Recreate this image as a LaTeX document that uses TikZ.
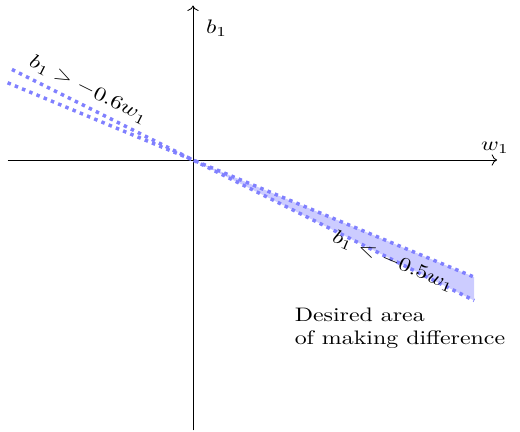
\documentclass[tikz,border=0pt]{standalone}
\usetikzlibrary{positioning,arrows.meta}
\begin{document}
\begin{tikzpicture}[x=1cm, y=0.833cm,
    axis/.style={->},
    bound/.style={blue!50, ultra thick, dotted},
    region/.style={fill=blue!20},
    lbl/.style={text=black, xscale=1.1, yscale=0.9}
  ]
  \useasboundingbox (-3.123cm,-4.401cm) rectangle (5.291cm,2.589cm);

  \coordinate (O) at (0,0);
  \coordinate (wmin) at (-3,0);
  \coordinate (wmax) at (4.92,0);
  \coordinate (bmin) at (0,-5.25);
  \coordinate (bmax) at (0,3.0);
  % b1 = -0.6 w1
  \coordinate (steepA) at (-2.93,1.758);
  \coordinate (steepB) at (4.55,-2.73);
  % b1 = -0.5 w1
  \coordinate (flatA) at (-3,1.5);
  \coordinate (flatB) at (4.55,-2.275);

  \fill[region] (O) -- (steepB) -- (flatB) -- cycle;

  \draw[axis] (wmin) -- (wmax) node[lbl, above, xshift=-0.3mm] (wlab) {$w_1$};
  \draw[axis] (bmin) -- (bmax) node[lbl, below right, xshift=2pt, yshift=-4pt] (blab) {$b_1$};

  \draw[bound] (steepA) -- node[lbl, above, sloped, pos=0.15] (gt) {$b_1 > -0.6w_1$} (steepB);
  \draw[bound] (flatA) -- node[lbl, below, sloped, pos=0.84] (lt) {$b_1 < -0.5w_1$} (flatB);

  \node[lbl, align=left, anchor=west] (note) at (1.51cm,-2.72cm) {Desired area\\of making difference};
\end{tikzpicture}
\end{document}
